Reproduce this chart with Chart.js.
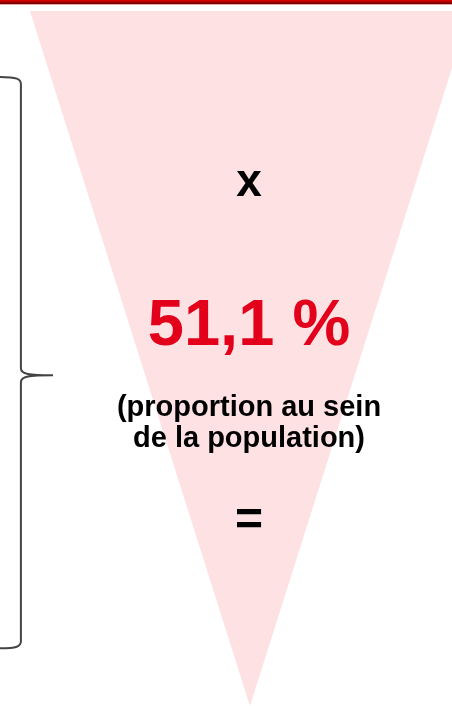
<!DOCTYPE html>
<html lang="fr">
<head>
<meta charset="utf-8">
<title>Proportion au sein de la population</title>
<script src="https://cdn.jsdelivr.net/npm/chart.js@4.4.1/dist/chart.umd.min.js"></script>
<style>
  html, body { margin: 0; padding: 0; background: #fff; }
  #wrap { position: relative; width: 452px; height: 706px; overflow: hidden; font-family: "Liberation Sans", Arial, sans-serif; font-weight: bold; }
  #topbar { position: absolute; left: 0; top: 0; width: 452px; height: 4px; background: linear-gradient(#e00000, #a00000 60%, #600000); border-bottom: 1px solid #e9a7a7; }
  canvas { position: absolute; left: 0; top: 0; }
  .lbl { position: absolute; left: 249px; transform: translateX(-50%); text-align: center; white-space: nowrap; }
  #op1 { top: 157px; font-size: 46px; line-height: 46px; color: #000; }
  #share { top: 290px; font-size: 65px; line-height: 65px; color: #e2001a; }
  #caption { top: 391px; font-size: 29px; line-height: 31px; color: #000; }
  #op2 { top: 495px; font-size: 48px; line-height: 48px; color: #000; }
</style>
</head>
<body>
<div id="wrap">
  <canvas id="funnelChart" width="452" height="706"></canvas>
  <div id="topbar"></div>
  <div class="lbl" id="op1"></div>
  <div class="lbl" id="share"></div>
  <div class="lbl" id="caption"></div>
  <div class="lbl" id="op2"></div>
</div>
<script>
// Data
const shareValue = 51.1;               // % of the population
const captionLines = ['(proportion au sein', 'de la population)'];
const operators = ['x', '='];

// Funnel outline (width -1..1, depth 0 at the tip, 1 at the top)
const funnelX = [-1, 1, 0, -1];
const funnelY = [1, 1, 0, 1];

// Brace on the left side, in the same units
const braceX = [-1.136, -1.041, -0.895];   // outer end, spine, tip
const braceY = [0.905, 0.476, 0.083];      // top, middle, bottom

document.getElementById('op1').textContent = operators[0];
document.getElementById('op2').textContent = operators[1];
document.getElementById('share').textContent = shareValue.toFixed(1).replace('.', ',') + ' %';
document.getElementById('caption').innerHTML = captionLines.join('<br>');

// Draws the curly brace through the chart scales
const bracePlugin = {
    id: 'brace',
    afterDatasetsDraw(chart) {
        const { ctx, scales: { x, y } } = chart;
        const x0 = x.getPixelForValue(braceX[0]);
        const xs = x.getPixelForValue(braceX[1]);
        const xt = x.getPixelForValue(braceX[2]);
        const yt = y.getPixelForValue(braceY[0]);
        const ym = y.getPixelForValue(braceY[1]);
        const yb = y.getPixelForValue(braceY[2]);
        ctx.save();
        ctx.strokeStyle = '#444';
        ctx.lineWidth = 2;
        ctx.beginPath();
        ctx.moveTo(x0, yt);
        ctx.bezierCurveTo(xs - 4, yt, xs, yt + 2, xs, yt + 7);
        ctx.lineTo(xs, ym - 7);
        ctx.bezierCurveTo(xs, ym - 1, xs + 8, ym, xt, ym);
        ctx.bezierCurveTo(xs + 8, ym, xs, ym + 1, xs, ym + 7);
        ctx.lineTo(xs, yb - 7);
        ctx.bezierCurveTo(xs, yb - 2, xs - 4, yb, x0, yb);
        ctx.stroke();
        ctx.restore();
    }
};

new Chart(document.getElementById('funnelChart').getContext('2d'), {
    type: 'line',
    data: {
        datasets: [{
            label: 'Population',
            data: funnelX.map((v, i) => ({ x: v, y: funnelY[i] })),
            backgroundColor: '#fde1e3',
            borderWidth: 0,
            borderColor: 'rgba(0,0,0,0)',
            pointRadius: 0,
            tension: 0,
            fill: 'shape'
        }]
    },
    options: {
        responsive: false,
        animation: false,
        layout: { padding: 0 },
        plugins: { legend: { display: false }, tooltip: { enabled: false } },
        scales: {
            x: { type: 'linear', display: false, min: -1.136, max: 0.918 },
            y: { type: 'linear', display: false, min: 0, max: 1.0158 }
        }
    },
    plugins: [bracePlugin]
});
</script>
</body>
</html>
